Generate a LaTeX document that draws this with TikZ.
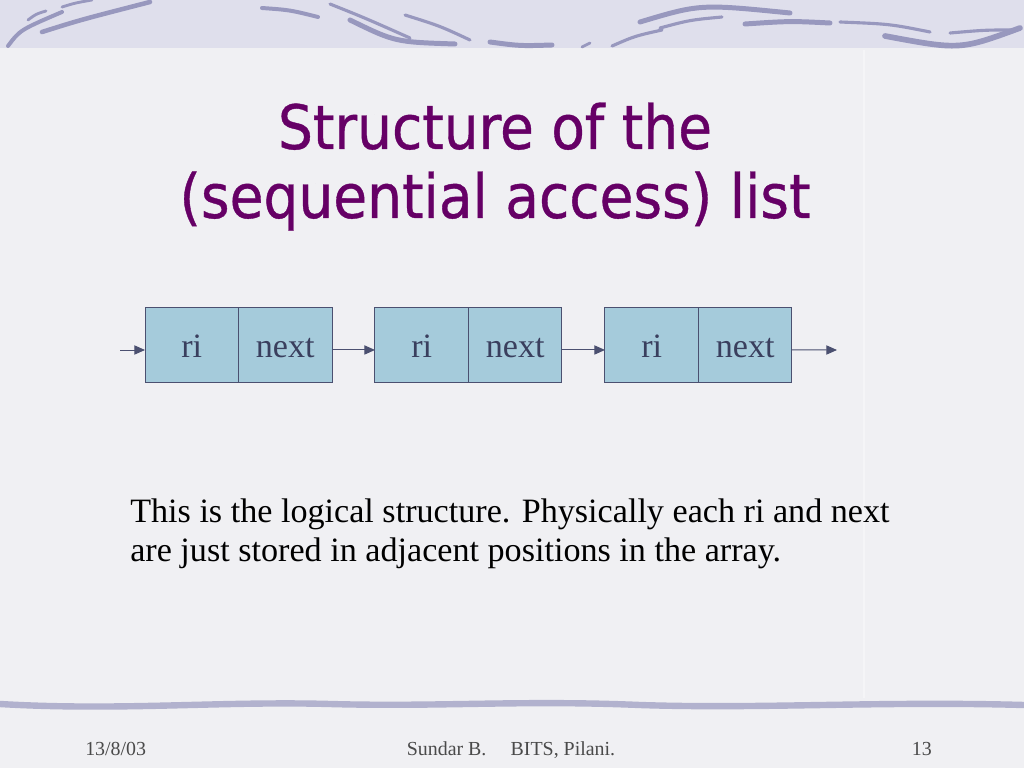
\documentclass[tikz,border=0pt]{standalone}
\usepackage{fontspec}
\setmainfont{Liberation Serif}
\newfontfamily\titlefont[FakeBold=0.6]{DejaVu Sans Condensed}
\usetikzlibrary{arrows.meta, positioning, calc}
\definecolor{slidebg}{HTML}{F0F0F3}
\definecolor{bandbg}{HTML}{DFDFEC}
\definecolor{swooshc}{HTML}{9898BE}
\definecolor{wavec}{HTML}{B2B2CE}
\definecolor{titlec}{HTML}{660066}
\definecolor{cellfill}{HTML}{A5CBDB}
\definecolor{cellline}{HTML}{4B5070}
\definecolor{celltext}{HTML}{3A3F5E}
\definecolor{footc}{HTML}{4A4A4A}

\begin{document}
\begin{tikzpicture}[x=0.703125pt, y=-0.703125pt,
    cell/.style={draw=cellline, fill=cellfill, text=celltext, line width=0.7pt, outer sep=0pt,
        minimum width=65.74pt, minimum height=53.4pt, inner sep=0pt,
        text height=17pt, text depth=0pt, font=\fontsize{24}{28}\selectfont},
    link/.style={draw=cellline, line width=0.7pt, -{Triangle[length=7.5pt, width=6.5pt]}},
    swoosh/.style={draw=swooshc, line cap=round, line width=2.8pt}]
    \useasboundingbox (0,0) rectangle (1024,768);
    \clip (0,0) rectangle (1024,768);
    % slide background
    \fill[slidebg] (0,0) rectangle (1024,768);
    \fill[bandbg] (0,0) rectangle (1024,48);
    \draw[white, opacity=0.35, line width=2pt] (864,50) -- (864,698);
    \draw[swoosh] (8,46) .. controls (20,30) .. (62,12);
    \draw[swoosh, line width=2pt] (28,20) .. controls (36,14) .. (46,11);
    \draw[swoosh, line width=3.2pt] (42,32) .. controls (80,20) .. (150,2);
    \draw[swoosh, line width=2pt] (62,7) .. controls (75,3) .. (92,0);
    \draw[swoosh] (262,8) .. controls (290,10) .. (318,17);
    \draw[swoosh, line width=2.2pt] (330,4) .. controls (365,18) .. (410,38);
    \draw[swoosh, line width=3.5pt] (350,20) .. controls (395,42) .. (455,44);
    \draw[swoosh, line width=2.2pt] (405,15) .. controls (440,26) .. (470,40);
    \draw[swoosh, line width=3.5pt] (490,42) .. controls (520,46) .. (552,45);
    \draw[swoosh, line width=2pt] (582,47) -- (590,43);
    \draw[swoosh, line width=2.2pt] (612,46) .. controls (635,36) .. (662,30);
    \draw[swoosh, line width=3.5pt] (640,22) .. controls (700,4) .. (790,13);
    \draw[swoosh, line width=2.2pt] (660,28) .. controls (690,20) .. (722,17);
    \draw[swoosh, line width=3.5pt] (745,24) .. controls (790,21) .. (830,23);
    \draw[swoosh, line width=2.2pt] (840,22) .. controls (890,24) .. (930,32);
    \draw[swoosh, line width=4pt] (885,36) .. controls (960,50) .. (1020,28);
    \draw[swoosh, line width=2.2pt] (950,33) .. controls (985,30) .. (1012,30);
    \draw[wavec, line width=4.5pt, line cap=round] (0,704) .. controls (120,711) and (220,701) .. (330,704)
        .. controls (440,707) and (520,700) .. (640,705) .. controls (760,709) and (880,701) .. (1024,705);
    % title
    \node[titlec, font=\titlefont\fontsize{43}{52}\selectfont, anchor=base] (title1) at (495,149) {Structure of the};
    \node[titlec, font=\titlefont\fontsize{43}{52}\selectfont, anchor=base] (title2) at (495,218) {(sequential access) list};
    % list cells
    \node[cell] (ri1) at (191.75,345) {ri};
    \node[cell] (nx1) [right=0pt of ri1] {next};
    \node[cell] (ri2) [right=30.23pt of nx1] {ri};
    \node[cell] (nx2) [right=0pt of ri2] {next};
    \node[cell] (ri3) [right=30.23pt of nx2] {ri};
    \node[cell] (nx3) [right=0pt of ri3] {next};
    \coordinate (head) at (120,350);
    \coordinate (tail) at (837,350);
    \draw[link] (head) -- (head -| ri1.west);
    \draw[link] ([yshift=-3.5pt]nx1.east) -- ([yshift=-3.5pt]ri2.west);
    \draw[link] ([yshift=-3.5pt]nx2.east) -- ([yshift=-3.5pt]ri3.west);
    \draw[link] ([yshift=-3.5pt]nx3.east) -- (tail);
    % text
    \node[anchor=base west, align=left, font=\fontsize{24}{27.4}\selectfont, inner sep=0pt] (note) at (130,561)
        {This is the logical structure. Physically each ri and next\\are just stored in adjacent positions in the array.};
    \node[footc, anchor=base west, font=\fontsize{14}{16}\selectfont, inner sep=0pt] (date) at (85,755) {13/8/03};
    \node[footc, anchor=base, font=\fontsize{14}{16}\selectfont, inner sep=0pt] (author) at (511,755) {Sundar B.\hspace{17pt}BITS, Pilani.};
    \node[footc, anchor=base east, font=\fontsize{14}{16}\selectfont, inner sep=0pt] (page) at (932,755) {13};
\end{tikzpicture}
\end{document}
